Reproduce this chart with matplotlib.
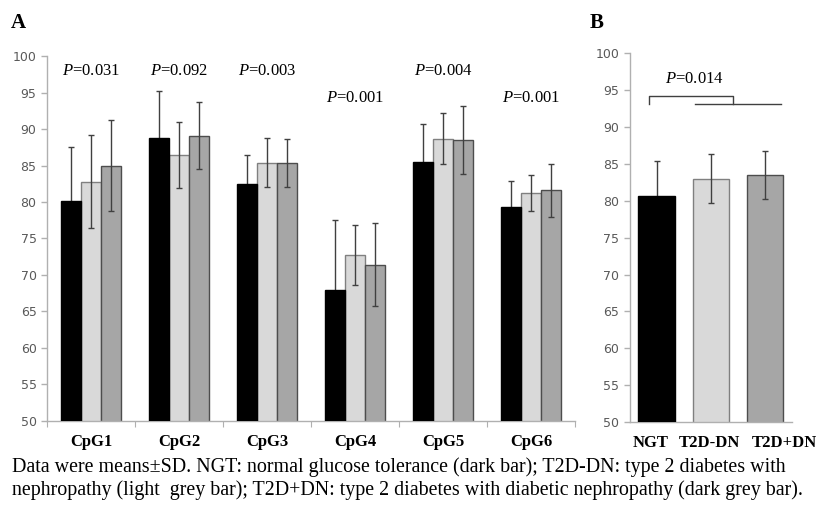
import numpy as np
import matplotlib
matplotlib.use("Agg")
import matplotlib.pyplot as plt

plt.rcParams['mathtext.fontset'] = 'custom'
plt.rcParams['mathtext.it'] = 'Liberation Serif:italic'
plt.rcParams['mathtext.rm'] = 'Liberation Serif'

# panel A data
cpg = ['CpG1', 'CpG2', 'CpG3', 'CpG4', 'CpG5', 'CpG6']
ngt = [80.2, 88.8, 82.4, 68.0, 85.5, 79.3]
ngt_sd = [7.4, 6.4, 4.0, 9.6, 5.2, 3.6]
t2d_dn = [82.8, 86.4, 85.4, 72.7, 88.7, 81.2]
t2d_dn_sd = [6.4, 4.5, 3.4, 4.1, 3.5, 2.5]
t2d_pdn = [85.0, 89.1, 85.3, 71.4, 88.5, 81.6]
t2d_pdn_sd = [6.3, 4.6, 3.3, 5.7, 4.6, 3.6]
p_a = ['0.031', '0.092', '0.003', '0.001', '0.004', '0.001']
p_a_y = [98.0, 98.0, 98.0, 94.3, 98.0, 94.3]

# panel B data
groups = ['NGT', 'T2D-DN', 'T2D+DN']
mean_b = [80.6, 83.0, 83.5]
sd_b = [4.8, 3.3, 3.2]
p_b = '0.014'

caption = ["Data were means\u00b1SD. NGT: normal glucose tolerance (dark bar); T2D-DN: type 2 diabetes with",
           "nephropathy (light  grey bar); T2D+DN: type 2 diabetes with diabetic nephropathy (dark grey bar)."]

fills = ['#000000', '#d9d9d9', '#a6a6a6']
edges = ['#000000', '#808080', '#4d4d4d']
errc = '#404040'
tickc = '#595959'
spinec = '#b0b0b0'

fig = plt.figure(figsize=(8.19, 5.14), dpi=100)
axA = fig.add_axes([0.0574, 0.181, 0.645, 0.710])
axB = fig.add_axes([0.769, 0.179, 0.198, 0.717])


def style(ax):
    ax.set_ylim(50, 100)
    ax.set_yticks(np.arange(50, 101, 5))
    ax.spines['top'].set_visible(False)
    ax.spines['right'].set_visible(False)
    for s in ['left', 'bottom']:
        ax.spines[s].set_color(spinec)
        ax.spines[s].set_linewidth(1.0)
    ax.tick_params(axis='y', colors=spinec, labelcolor=tickc, labelsize=9, length=4, width=1)
    for lab in ax.get_yticklabels():
        lab.set_fontfamily('DejaVu Sans')


def draw_bar(ax, xpos, m, s, width, i):
    # black bars hide the lower half of their error bar
    bz = 3 if i == 0 else 1
    ax.bar(xpos, m, width, color=fills[i], edgecolor=edges[i], linewidth=1.0, zorder=bz)
    ax.errorbar(xpos, m, yerr=s, fmt='none', ecolor=errc, elinewidth=1.0,
                capsize=2.5, capthick=1.0, zorder=2)


# panel A
x = np.arange(len(cpg))
w = 0.227
series = [(ngt, ngt_sd), (t2d_dn, t2d_dn_sd), (t2d_pdn, t2d_pdn_sd)]
for i, (m, s) in enumerate(series):
    draw_bar(axA, x + (i - 1) * w, m, s, w, i)
axA.set_xlim(-0.5, len(cpg) - 0.5)
style(axA)
bounds = np.arange(-0.5, len(cpg), 1.0)
axA.set_xticks(bounds)
axA.set_xticklabels([''] * len(bounds))
axA.tick_params(axis='x', colors=spinec, length=4, direction='out')
for i, c in enumerate(cpg):
    axA.text(x[i], 48.2, c, ha='center', va='top', fontsize=12, fontweight='bold',
             fontfamily='Liberation Serif')
    axA.text(x[i], p_a_y[i], r'$P$=' + p_a[i], ha='center', va='center', fontsize=12,
             fontfamily='Liberation Serif')

# panel B
xb = np.arange(len(groups))
for i in range(len(groups)):
    draw_bar(axB, xb[i], mean_b[i], sd_b[i], 0.68, i)
axB.set_xlim(-0.5, len(groups) - 0.5)
style(axB)
axB.set_xticks([])
label_shift = [-0.12, -0.02, 0.36]
for i, g in enumerate(groups):
    axB.text(xb[i] + label_shift[i], 48.2, g, ha='center', va='top', fontsize=12,
             fontweight='bold', fontfamily='Liberation Serif')

# significance bracket
bc = '#404040'
axB.plot([-0.15, -0.15, 1.4, 1.4], [93.1, 94.2, 94.2, 93.1], color=bc, lw=1.0, clip_on=False)
axB.plot([0.7, 2.3], [93.1, 93.1], color=bc, lw=1.0, clip_on=False)
axB.text(0.7, 96.5, r'$P$=' + p_b, ha='center', va='center', fontsize=12,
         fontfamily='Liberation Serif')

# panel letters
fig.text(0.013, 0.955, 'A', fontsize=15, fontweight='bold', fontfamily='Liberation Serif', va='center')
fig.text(0.720, 0.955, 'B', fontsize=15, fontweight='bold', fontfamily='Liberation Serif', va='center')

# caption
fig.text(0.015, 0.091, caption[0], fontsize=14.4, fontfamily='Liberation Serif', va='center')
fig.text(0.015, 0.046, caption[1], fontsize=14.4, fontfamily='Liberation Serif', va='center')

fig.savefig('out.png', dpi=100)
